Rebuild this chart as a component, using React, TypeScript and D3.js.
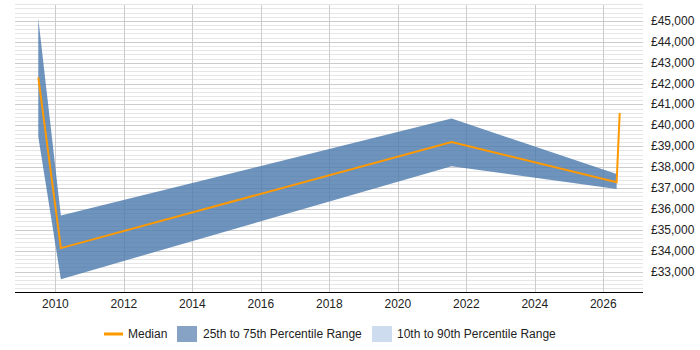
import React, { useEffect, useRef } from 'react';
import * as d3 from 'd3';

// Sample points (fractional years) for the percentile band and the median
const bandYears = [2009.5, 2010.16, 2021.57, 2026.39];
const p25 = [39450, 32640, 38045, 36950];
const p75 = [45120, 35680, 40325, 37670];

const medianYears = [2009.5, 2010.16, 2021.57, 2026.39, 2026.48];
const median = [42300, 34125, 39200, 37280, 40600];

const yearTicks = [2010, 2012, 2014, 2016, 2018, 2020, 2022, 2024, 2026];
const salaryTicks = [33000, 34000, 35000, 36000, 37000, 38000, 39000, 40000, 41000, 42000, 43000, 44000, 45000];

const legendItems = ['Median', '25th to 75th Percentile Range', '10th to 90th Percentile Range'];

const W = 700;
const H = 350;
const FONT = 'Arial, "Liberation Sans", sans-serif';

export default function App() {
  const svgRef = useRef<SVGSVGElement>(null);

  useEffect(() => {
    if (!svgRef.current) return;
    const svg = d3.select(svgRef.current);
    svg.selectAll('*').remove();

    const x = d3.scaleLinear().domain([2008.82, 2027.16]).range([15, 643]);
    const y = d3.scaleLinear().domain([32000, 45800]).range([292.5, 4.2]);

    const grid = svg.append('g');

    // minor horizontal grid every 200
    grid.selectAll('line.minor')
      .data(d3.range(32200, 45801, 200).filter(v => v % 1000 !== 0))
      .enter().append('line')
      .attr('x1', 15).attr('x2', 643)
      .attr('y1', d => Math.round(y(d)) + 0.5).attr('y2', d => Math.round(y(d)) + 0.5)
      .attr('stroke', '#e6e6e6').attr('stroke-width', 1);

    // major horizontal grid every 1000
    grid.selectAll('line.major')
      .data(d3.range(33000, 45001, 1000))
      .enter().append('line')
      .attr('x1', 15).attr('x2', 643)
      .attr('y1', d => Math.round(y(d)) + 0.5).attr('y2', d => Math.round(y(d)) + 0.5)
      .attr('stroke', '#cccccc').attr('stroke-width', 1);

    // vertical grid at year ticks
    grid.selectAll('line.vert')
      .data(yearTicks)
      .enter().append('line')
      .attr('x1', d => Math.round(x(d)) + 0.5).attr('x2', d => Math.round(x(d)) + 0.5)
      .attr('y1', 5).attr('y2', 292)
      .attr('stroke', '#cccccc').attr('stroke-width', 1);

    // interquartile band
    const area = d3.area<number>()
      .x((_, i) => x(bandYears[i]))
      .y0((_, i) => y(p25[i]))
      .y1((_, i) => y(p75[i]));

    svg.append('path')
      .datum(bandYears)
      .attr('d', area)
      .attr('fill', '#4a78ad')
      .attr('fill-opacity', 0.8);

    // median line
    const line = d3.line<number>()
      .x((_, i) => x(medianYears[i]))
      .y((_, i) => y(median[i]));

    svg.append('path')
      .datum(medianYears)
      .attr('d', line)
      .attr('fill', 'none')
      .attr('stroke', '#ff9900')
      .attr('stroke-width', 2);

    // x axis
    svg.append('line')
      .attr('x1', 15).attr('x2', 643)
      .attr('y1', 292.5).attr('y2', 292.5)
      .attr('stroke', '#000').attr('stroke-width', 1.2);

    svg.append('g').selectAll('text')
      .data(yearTicks)
      .enter().append('text')
      .attr('x', d => x(d))
      .attr('y', 308)
      .attr('text-anchor', 'middle')
      .attr('font-family', FONT)
      .attr('font-size', 12)
      .attr('fill', '#222')
      .text(d => String(d));

    // y axis labels on the right
    const fmt = d3.format(',');
    svg.append('g').selectAll('text')
      .data(salaryTicks)
      .enter().append('text')
      .attr('x', 651)
      .attr('y', d => y(d) + 4)
      .attr('font-family', FONT)
      .attr('font-size', 12)
      .attr('fill', '#222')
      .text(d => '£' + fmt(d));

    // legend
    const lg = svg.append('g').attr('font-family', FONT).attr('font-size', 12).attr('fill', '#222');
    lg.append('line')
      .attr('x1', 104).attr('x2', 123)
      .attr('y1', 334).attr('y2', 334)
      .attr('stroke', '#ff9900').attr('stroke-width', 3);
    lg.append('text').attr('x', 128).attr('y', 338).text(legendItems[0]);

    lg.append('rect')
      .attr('x', 177).attr('y', 326).attr('width', 20).attr('height', 16)
      .attr('fill', '#86a3c5');
    lg.append('text').attr('x', 203).attr('y', 338).text(legendItems[1]);

    lg.append('rect')
      .attr('x', 372).attr('y', 326).attr('width', 20).attr('height', 16)
      .attr('fill', '#cddcee');
    lg.append('text').attr('x', 397).attr('y', 338).text(legendItems[2]);
  }, []);

  return (
    <div style={{ position: 'absolute', left: 0, top: 0 }}>
      <svg ref={svgRef} width={W} height={H} style={{ display: 'block' }} />
    </div>
  );
}
